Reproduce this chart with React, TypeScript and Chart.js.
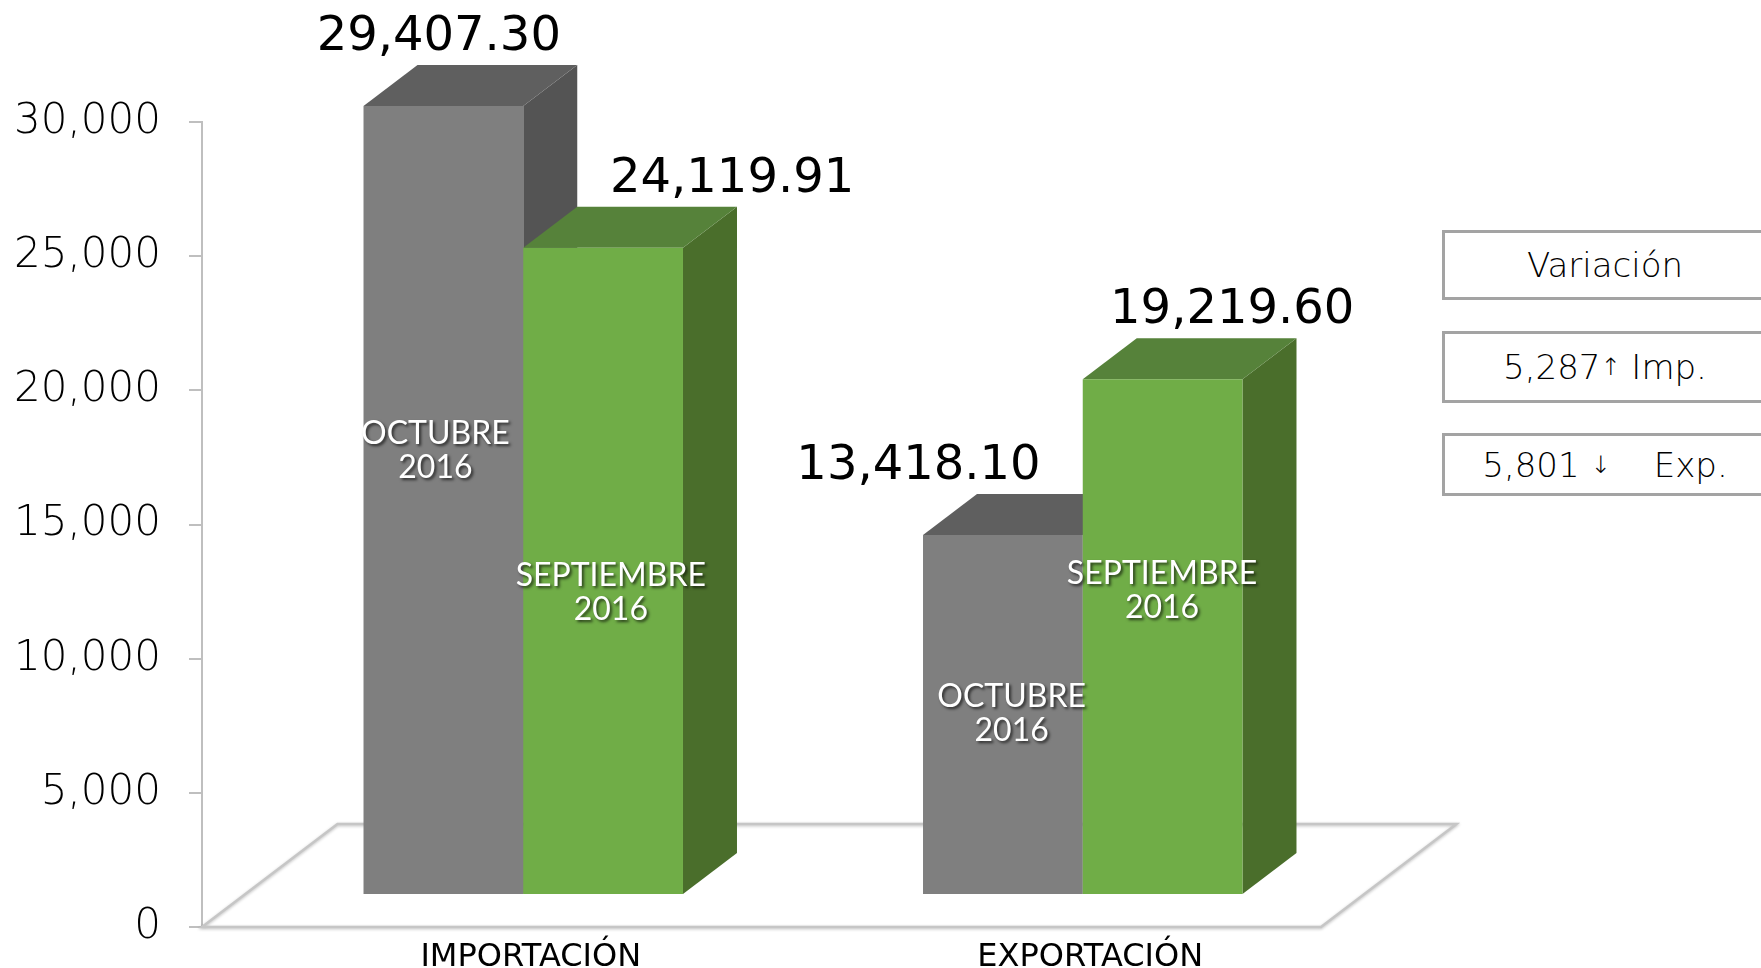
import React, { useEffect, useRef } from 'react';
import { Chart, registerables } from 'chart.js';

Chart.register(...registerables);

// ---- data ----
const categories = ['IMPORTACIÓN', 'EXPORTACIÓN'];
const seriesNames = ['OCTUBRE 2016', 'SEPTIEMBRE 2016'];
const octubre2016 = [29407.3, 13418.1];
const septiembre2016 = [24119.91, 19219.6];
const yTickValues = [0, 5000, 10000, 15000, 20000, 25000, 30000];
const variationTitle = 'Variación';
const variationImport = '5,287';
const variationImportLabel = 'Imp.';
const variationExport = '5,801';
const variationExportLabel = 'Exp.';

// ---- styles / geometry ----
const FACE_COLORS = [
  { front: '#7f7f7f', top: '#5f5f5f', side: '#545454' },
  { front: '#70ad47', top: '#56823a', side: '#4a6e2b' },
];
const SHIFT = { dx: 41.5, dy: -32 };
const DEPTH = { dx: 54, dy: -41 };
const FLOOR = { dx: 135.5, dy: -103 };
const VALUE_LABEL_DX = [
  [-4.6, -84.4],
  [129, 69.6],
];
const VALUE_LABEL_GAP = 15;
const INNER_LABEL_POS = [
  [{ dx: -8, f: 0.438 }, { dx: 8.8, f: 0.499 }],
  [{ dx: 7.7, f: 0.533 }, { dx: -0.6, f: 0.41 }],
];

const fmtValue = (v: number) =>
  v.toLocaleString('en-US', { minimumFractionDigits: 2, maximumFractionDigits: 2 });

const bars3d = {
  id: 'bars3d',
  beforeDatasetsDraw(chart: any) {
    const ctx = chart.ctx as CanvasRenderingContext2D;
    const { left, right, bottom } = chart.chartArea;
    // floor
    ctx.save();
    ctx.strokeStyle = '#c6c6c6';
    ctx.lineWidth = 2.5;
    ctx.shadowColor = 'rgba(0,0,0,0.25)';
    ctx.shadowBlur = 3;
    ctx.shadowOffsetY = 1;
    ctx.beginPath();
    ctx.moveTo(left, bottom);
    ctx.lineTo(right, bottom);
    ctx.lineTo(right + FLOOR.dx, bottom + FLOOR.dy);
    ctx.lineTo(left + FLOOR.dx, bottom + FLOOR.dy);
    ctx.closePath();
    ctx.stroke();
    ctx.restore();

    const items: any[] = [];
    chart.data.datasets.forEach((_ds: any, di: number) => {
      const meta = chart.getDatasetMeta(di);
      meta.data.forEach((el: any, i: number) => items.push({ el, di, i }));
    });
    items.sort((a, b) => a.el.x - b.el.x);

    ctx.save();
    ctx.translate(SHIFT.dx, SHIFT.dy);
    for (const { el, di } of items) {
      const p = el.getProps(['x', 'y', 'base', 'width'], true);
      const x0 = p.x - p.width / 2;
      const x1 = p.x + p.width / 2;
      const c = FACE_COLORS[di];
      ctx.fillStyle = c.side;
      ctx.beginPath();
      ctx.moveTo(x1, p.y);
      ctx.lineTo(x1 + DEPTH.dx, p.y + DEPTH.dy);
      ctx.lineTo(x1 + DEPTH.dx, p.base + DEPTH.dy);
      ctx.lineTo(x1, p.base);
      ctx.closePath();
      ctx.fill();
      ctx.fillStyle = c.top;
      ctx.beginPath();
      ctx.moveTo(x0, p.y);
      ctx.lineTo(x0 + DEPTH.dx, p.y + DEPTH.dy);
      ctx.lineTo(x1 + DEPTH.dx, p.y + DEPTH.dy);
      ctx.lineTo(x1, p.y);
      ctx.closePath();
      ctx.fill();
      el.draw(ctx);
    }
    ctx.restore();
    return false;
  },
  afterDraw(chart: any) {
    const ctx = chart.ctx as CanvasRenderingContext2D;
    chart.data.datasets.forEach((ds: any, di: number) => {
      const meta = chart.getDatasetMeta(di);
      meta.data.forEach((el: any, i: number) => {
        const p = el.getProps(['x', 'y', 'base', 'width'], true);
        const fx = p.x + SHIFT.dx;
        const fy = p.y + SHIFT.dy;
        const fb = p.base + SHIFT.dy;
        // value label above bar
        ctx.save();
        ctx.font = '48px "DejaVu Sans"';
        ctx.fillStyle = '#000';
        ctx.textAlign = 'center';
        ctx.textBaseline = 'alphabetic';
        ctx.fillText(fmtValue(ds.data[i]), fx + VALUE_LABEL_DX[di][i], fy + DEPTH.dy - VALUE_LABEL_GAP);
        ctx.restore();
        // inner series label
        const pos = INNER_LABEL_POS[di][i];
        const cy = fy + (fb - fy) * pos.f;
        const lines = String(ds.label).split(' ');
        ctx.save();
        ctx.font = '32px Lato';
        ctx.fillStyle = '#fff';
        ctx.textAlign = 'center';
        ctx.textBaseline = 'middle';
        ctx.shadowColor = 'rgba(0,0,0,0.65)';
        ctx.shadowBlur = 3;
        ctx.shadowOffsetX = 2;
        ctx.shadowOffsetY = 2;
        const lh = 34;
        lines.forEach((ln, k) => {
          ctx.fillText(ln, fx + pos.dx, cy + (k - (lines.length - 1) / 2) * lh);
        });
        ctx.restore();
      });
    });
  },
};

const boxStyle = (top: number, height: number): React.CSSProperties => ({
  position: 'absolute',
  left: 1442,
  top,
  width: 326,
  height,
  boxSizing: 'border-box',
  border: '3px solid #a3a3a3',
  display: 'flex',
  alignItems: 'center',
  justifyContent: 'center',
  fontFamily: '"DejaVu Sans"',
  fontWeight: 200,
  fontSize: 34,
  color: '#000',
  whiteSpace: 'pre',
  background: '#fff',
});

const arrowStyle: React.CSSProperties = { fontSize: 24, verticalAlign: '-6px' };

export default function App() {
  const ref = useRef<HTMLCanvasElement>(null);
  useEffect(() => {
    if (!ref.current) return;
    const chart = new Chart(ref.current, {
      type: 'bar',
      data: {
        labels: categories,
        datasets: [
          {
            label: seriesNames[0],
            data: octubre2016,
            backgroundColor: FACE_COLORS[0].front,
            borderWidth: 0,
            categoryPercentage: 0.571,
            barPercentage: 1,
          },
          {
            label: seriesNames[1],
            data: septiembre2016,
            backgroundColor: FACE_COLORS[1].front,
            borderWidth: 0,
            categoryPercentage: 0.571,
            barPercentage: 1,
          },
        ],
      },
      options: {
        responsive: false,
        animation: false,
        layout: { padding: { top: 122, right: 440, bottom: 0, left: 0 } },
        plugins: { legend: { display: false }, tooltip: { enabled: false } },
        scales: {
          x: {
            grid: { display: false, drawTicks: false },
            border: { display: false },
            ticks: {
              color: '#000',
              font: { family: '"DejaVu Sans"', size: 32 },
              labelOffset: 49,
              padding: 11,
            },
            afterFit: (s: any) => {
              s.height = 41;
              s.paddingLeft = 0;
              s.paddingRight = 0;
            },
          },
          y: {
            min: 0,
            max: 30000,
            afterBuildTicks: (s: any) => {
              s.ticks = yTickValues.map((v) => ({ value: v }));
            },
            ticks: {
              color: '#000',
              font: { family: '"DejaVu Sans"', size: 42, weight: '200' as any },
              padding: 28,
              callback: (v: any) => Number(v).toLocaleString('en-US'),
            },
            grid: {
              drawOnChartArea: false,
              drawTicks: true,
              tickLength: 13,
              color: '#bfbfbf',
              lineWidth: 2,
            },
            border: { display: true, color: '#bfbfbf', width: 2 },
            afterFit: (s: any) => {
              s.width = 202;
              s.paddingTop = 20;
              s.paddingBottom = 20;
            },
          },
        },
      },
      plugins: [bars3d],
    });
    return () => chart.destroy();
  }, []);

  return (
    <div
      style={{
        position: 'absolute',
        left: 0,
        top: 0,
        width: 1761,
        height: 968,
        overflow: 'hidden',
        background: '#fff',
      }}
    >
      <canvas ref={ref} width={1761} height={968} style={{ display: 'block' }} />
      <div style={boxStyle(230, 70)}>{variationTitle}</div>
      <div style={boxStyle(331, 72)}>
        {variationImport}
        <span style={arrowStyle}>↑</span>
        {' ' + variationImportLabel}
      </div>
      <div style={boxStyle(433, 63)}>
        {variationExport + ' '}
        <span style={arrowStyle}>↓</span>
        {'    ' + variationExportLabel}
      </div>
    </div>
  );
}
